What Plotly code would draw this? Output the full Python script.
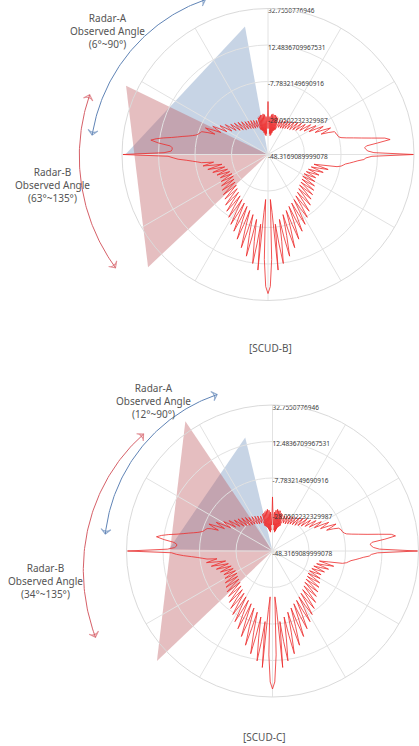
import numpy as np
import plotly.graph_objects as go

W, H = 419, 746

# ---------------- data ----------------
ANGLES = list(range(360))  # aspect angle, degrees

RCS_SCUD_B = [
    32.6, 10.5, 7.2, 6.1, 5.5, 6.6, 12.8, 20.0, 17.2, 10.0,
    4.4, 0.0, -3.9, -6.7, -7.8, -8.3, -8.3, -8.9, -8.9, -9.4,
    -12.8, -16.7, -13.3, -10.6, -15.0, -19.4, -16.7, -13.9, -17.8, -22.2,
    -19.4, -17.2, -20.6, -24.4, -21.7, -19.4, -22.8, -26.1, -23.9, -21.7,
    -24.4, -27.8, -25.6, -22.8, -26.1, -28.9, -26.7, -23.9, -27.2, -30.0,
    -27.8, -25.0, -27.8, -30.5, -28.9, -26.1, -28.9, -31.1, -29.4, -26.7,
    -29.4, -31.7, -30.0, -27.2, -30.0, -32.2, -30.0, -27.8, -30.5, -32.2,
    -30.5, -28.3, -31.1, -32.8, -33.9, -27.2, -34.4, -26.7, -35.0, -26.1,
    -36.1, -26.1, -37.2, -25.6, -37.8, -26.1, -36.7, -27.2, -33.9, -30.5,
    -18.9, -30.5, -33.9, -27.2, -36.7, -26.1, -37.8, -25.6, -37.2, -26.1,
    -36.1, -26.1, -35.0, -26.7, -34.4, -27.2, -33.9, -32.8, -31.1, -28.3,
    -30.5, -32.2, -30.5, -27.8, -30.0, -32.2, -30.0, -27.2, -30.0, -31.7,
    -29.4, -26.7, -29.4, -31.1, -28.9, -26.1, -28.9, -30.5, -27.8, -25.0,
    -27.8, -30.0, -27.2, -23.9, -26.7, -28.9, -26.1, -22.8, -25.6, -27.8,
    -24.4, -21.7, -23.9, -26.1, -22.8, -19.4, -21.7, -24.4, -20.6, -17.2,
    -19.4, -22.2, -17.8, -13.9, -16.7, -19.4, -15.0, -10.6, -13.3, -16.7,
    -12.8, -9.4, -8.9, -8.3, -7.8, -6.7, -5.0, -2.8, 0.0, 2.8,
    6.1, 10.5, 14.4, 17.2, 12.8, 6.1, 5.0, 5.0, 5.5, 9.4,
    32.2, 7.2, 4.4, 1.7, -2.8, -6.1, -8.9, -11.1, -17.8, -15.0,
    -11.7, -17.2, -22.2, -18.3, -13.9, -18.9, -23.3, -20.0, -16.1, -20.6,
    -24.4, -21.1, -17.8, -21.7, -25.0, -22.2, -18.9, -22.2, -25.6, -22.2,
    -18.3, -22.2, -25.6, -21.7, -17.2, -21.1, -25.0, -20.6, -16.1, -20.6,
    -24.4, -20.0, -15.0, -19.4, -23.9, -18.9, -13.9, -18.9, -22.8, -17.2,
    -11.7, -17.2, -21.7, -15.6, -9.4, -15.0, -20.6, -13.9, -7.2, -13.3,
    -19.4, -12.2, -4.4, -11.7, -18.3, -10.0, -1.7, -9.4, -17.2, -7.8,
    1.7, -7.2, -15.6, -5.0, 5.5, -4.4, -13.9, -2.2, 9.4, -1.1,
    -11.7, 0.5, 12.8, 1.7, -9.4, 16.1, -16.1, -23.3, 10.0, 25.0,
    28.9, 25.0, 10.0, -23.3, -16.1, 16.1, -9.4, 1.7, 12.8, 0.5,
    -11.7, -1.1, 9.4, -2.2, -13.9, -4.4, 5.5, -5.0, -15.6, -7.2,
    1.7, -7.8, -17.2, -9.4, -1.7, -10.0, -18.3, -11.7, -4.4, -12.2,
    -19.4, -13.3, -7.2, -13.9, -20.6, -15.0, -9.4, -15.6, -21.7, -17.2,
    -11.7, -17.2, -22.8, -18.9, -13.9, -18.9, -23.9, -19.4, -15.0, -20.0,
    -24.4, -20.6, -16.1, -20.6, -25.0, -21.1, -17.2, -21.7, -25.6, -22.2,
    -18.3, -22.2, -25.6, -22.2, -18.9, -22.2, -25.0, -21.7, -17.8, -21.1,
    -24.4, -20.6, -16.1, -20.0, -23.3, -18.9, -13.9, -18.3, -22.2, -17.2,
    -9.4, -7.2, -6.1, -5.0, -2.8, -0.6, 1.7, 5.0, 6.1, 9.4,
]

RCS_SCUD_C = [
    32.2, 11.1, 7.8, 6.6, 6.1, 7.2, 14.4, 20.5, 18.3, 11.1,
    5.0, 0.5, -3.3, -6.1, -7.2, -7.8, -8.3, -8.3, -8.9, -9.4,
    -12.2, -16.1, -12.8, -10.0, -14.4, -18.9, -16.1, -13.3, -17.2, -21.7,
    -18.9, -16.7, -20.0, -23.9, -21.1, -18.9, -22.2, -25.6, -23.3, -21.1,
    -23.9, -27.2, -25.0, -22.2, -25.6, -28.3, -26.1, -23.3, -26.7, -29.4,
    -27.2, -24.4, -27.2, -30.0, -28.3, -25.6, -28.3, -30.5, -28.9, -26.1,
    -28.9, -31.1, -29.4, -26.7, -29.4, -31.7, -29.4, -27.2, -30.0, -31.7,
    -30.0, -27.8, -30.5, -32.2, -33.9, -27.2, -34.4, -26.7, -35.0, -25.6,
    -36.1, -25.6, -37.2, -25.0, -37.8, -25.6, -36.7, -26.7, -33.9, -30.0,
    -18.3, -30.0, -33.9, -26.7, -36.7, -25.6, -37.8, -25.0, -37.2, -25.6,
    -36.1, -26.1, -35.0, -26.7, -34.4, -27.2, -33.9, -32.2, -30.5, -27.8,
    -30.0, -31.7, -30.0, -27.2, -29.4, -31.7, -29.4, -26.7, -29.4, -31.1,
    -28.9, -26.1, -28.9, -30.5, -28.3, -25.6, -28.3, -30.0, -27.2, -24.4,
    -27.2, -29.4, -26.7, -23.3, -26.1, -28.3, -25.6, -22.2, -25.0, -27.2,
    -23.9, -21.1, -23.3, -25.6, -22.2, -18.9, -21.1, -23.9, -20.0, -16.7,
    -18.9, -21.7, -17.2, -13.3, -16.1, -18.9, -14.4, -10.0, -12.8, -16.1,
    -12.2, -10.0, -9.4, -8.9, -8.3, -7.2, -5.6, -3.3, -0.6, 2.2,
    5.5, 10.0, 13.9, 16.6, 12.2, 6.6, 5.0, 5.0, 6.1, 10.0,
    32.2, 7.8, 5.0, 1.1, -3.3, -6.7, -9.4, -11.7, -17.2, -14.4,
    -11.1, -16.7, -21.7, -17.8, -13.3, -18.3, -22.8, -19.4, -15.6, -20.0,
    -23.9, -20.6, -17.2, -21.1, -24.4, -21.7, -18.3, -21.7, -25.0, -21.7,
    -17.8, -21.7, -25.0, -21.1, -16.7, -20.6, -24.4, -20.0, -15.6, -20.0,
    -23.9, -19.4, -14.4, -18.9, -23.3, -18.3, -13.3, -18.3, -22.2, -16.7,
    -11.1, -16.7, -21.1, -15.0, -8.9, -14.4, -20.0, -13.3, -6.7, -12.8,
    -18.9, -11.7, -3.9, -11.1, -17.8, -9.4, -1.1, -8.9, -16.7, -7.2,
    2.2, -6.7, -15.0, -4.4, 6.1, -3.9, -13.3, -1.7, 10.0, -0.6,
    -11.1, 1.1, 13.3, 2.2, -8.9, 16.6, -15.6, -22.8, 9.4, 24.4,
    28.3, 24.4, 9.4, -22.8, -15.6, 16.6, -8.9, 2.2, 13.3, 1.1,
    -11.1, -0.6, 10.0, -1.7, -13.3, -3.9, 6.1, -4.4, -15.0, -6.7,
    2.2, -7.2, -16.7, -8.9, -1.1, -9.4, -17.8, -11.1, -3.9, -11.7,
    -18.9, -12.8, -6.7, -13.3, -20.0, -14.4, -8.9, -15.0, -21.1, -16.7,
    -11.1, -16.7, -22.2, -18.3, -13.3, -18.3, -23.3, -18.9, -14.4, -19.4,
    -23.9, -20.0, -15.6, -20.0, -24.4, -20.6, -16.7, -21.1, -25.0, -21.7,
    -17.8, -21.7, -25.0, -21.7, -18.3, -21.7, -24.4, -21.1, -17.2, -20.6,
    -23.9, -20.0, -15.6, -19.4, -22.8, -18.3, -13.3, -17.8, -21.7, -16.7,
    -8.9, -6.7, -5.6, -4.4, -2.2, 0.0, 2.2, 5.5, 6.6, 10.0,
]
assert len(RCS_SCUD_B) == 360 and len(RCS_SCUD_C) == 360

R_TICKS = [-48.3169089999078, -28.0502232329987, -7.7832149690916,
           12.4836709967531, 32.7550776946]
R_TICK_TEXT = ["-48.3169089999078", "-28.0502232329987", "-7.7832149690916",
               "12.4836709967531", "32.7550776946"]

TITLES = ["[SCUD-B]", "[SCUD-C]"]
RADAR_A_LABELS = ["Radar-A<br>Observed Angle<br>(6°~90°)",
                  "Radar-A<br>Observed Angle<br>(12°~90°)"]
RADAR_B_LABELS = ["Radar-B<br>Observed Angle<br>(63°~135°)",
                  "Radar-B<br>Observed Angle<br>(34°~135°)"]

# observed-angle wedges as drawn: (angle1, angle2, reach1, reach2) reach = fraction of outer ring
WEDGE_A = [(100.2, 180.2, 0.89, 0.98), (103.5, 179.0, 0.80, 0.71)]
WEDGE_B = [(154.2, 223.2, 1.08, 1.127), (123.9, 223.6, 1.07, 1.093)]
# guide arcs: (angle1, angle2, reach1, reach2)
ARC_A = [(112.0, 173.7, 1.144, 1.212), (109.5, 174.2, 1.137, 1.151)]
ARC_B = [(161.5, 216.6, 1.288, 1.301), (137.8, 206.0, 1.192, 1.349)]

# ---------------- layout constants ----------------
R_PX = 146.0
CENTERS = [(268.0, 154.5), (272.5, 551.0)]
TITLE_POS = [(270, 348), (264, 737)]
RA_POS = [(107, 31), (153, 401)]
RB_POS = [(52, 185), (45, 581)]

BLUE = "rgb(96,132,182)"
RED = "rgb(214,96,104)"
GRID = "#e2e2e2"
TXT = "#555555"
FONT = "Noto Sans"


def to_px(center, theta_deg, frac):
    cx, cy = center
    t = np.radians(theta_deg)
    return cx + frac * R_PX * np.cos(t), cy - frac * R_PX * np.sin(t)


def polar_domain(center):
    cx, cy = center
    return dict(x=[(cx - R_PX) / W, (cx + R_PX) / W],
                y=[1 - (cy + R_PX) / H, 1 - (cy - R_PX) / H])


fig = go.Figure()

# wedges and arcs on an invisible pixel-scaled cartesian overlay
for i, c in enumerate(CENTERS):
    for (a1, a2, f1, f2), col in ((WEDGE_A[i], "rgba(100,135,182,0.36)"),
                                   (WEDGE_B[i], "rgba(190,92,98,0.40)")):
        x1, y1 = to_px(c, a1, f1)
        x2, y2 = to_px(c, a2, f2)
        fig.add_trace(go.Scatter(x=[c[0], x1, x2, c[0]], y=[c[1], y1, y2, c[1]],
                                 mode="lines", fill="toself", fillcolor=col,
                                 line=dict(width=0), hoverinfo="skip",
                                 showlegend=False))
    for (a1, a2, f1, f2), col in ((ARC_A[i], BLUE), (ARC_B[i], RED)):
        th = np.linspace(a1, a2, 80)
        fr = np.linspace(f1, f2, 80)
        xs, ys = to_px(c, th, fr)
        fig.add_trace(go.Scatter(x=xs, y=ys, mode="lines",
                                 line=dict(color=col, width=1),
                                 hoverinfo="skip", showlegend=False))
        for xa, ya in (([xs[-3], xs[-1]], [ys[-3], ys[-1]]),
                       ([xs[2], xs[0]], [ys[2], ys[0]])):
            fig.add_trace(go.Scatter(
                x=xa, y=ya, mode="markers", hoverinfo="skip", showlegend=False,
                marker=dict(symbol="arrow-wide-open", size=[0, 7], angleref="previous",
                            color=col, line=dict(color=col, width=1.1))))

# RCS patterns
for i, (rcs, c) in enumerate(zip([RCS_SCUD_B, RCS_SCUD_C], CENTERS)):
    sub = "polar" if i == 0 else "polar2"
    fig.add_trace(go.Scatterpolar(
        r=rcs + [rcs[0]], theta=ANGLES + [360], mode="lines",
        line=dict(color="rgba(236,44,44,0.9)", width=0.9),
        subplot=sub, showlegend=False, hoverinfo="skip"))
    fig.add_trace(go.Scatterpolar(
        r=R_TICKS, theta=[90] * len(R_TICKS), mode="text", text=R_TICK_TEXT,
        textposition="bottom right", cliponaxis=False,
        textfont=dict(size=6.5, color="#3a3a3a", family=FONT),
        subplot=sub, showlegend=False, hoverinfo="skip"))

polar_common = dict(
    bgcolor="rgba(0,0,0,0)",
    radialaxis=dict(range=[R_TICKS[0], R_TICKS[-1]], tickvals=R_TICKS,
                    showticklabels=False, ticks="", showline=False,
                    gridcolor=GRID, gridwidth=1, angle=90),
    angularaxis=dict(dtick=30, showticklabels=False, ticks="", gridcolor=GRID,
                     gridwidth=1, linecolor="#dadada", linewidth=1, showline=True,
                     rotation=0, direction="counterclockwise"),
)

annotations = []
for i in range(2):
    for txt, (px, py), size in ((TITLES[i], TITLE_POS[i], 10),
                                (RADAR_A_LABELS[i], RA_POS[i], 10),
                                (RADAR_B_LABELS[i], RB_POS[i], 10)):
        annotations.append(dict(x=px, y=py, xref="x", yref="y", text=txt,
                                showarrow=False, align="center",
                                font=dict(size=size, color=TXT, family=FONT)))

fig.update_layout(
    width=W, height=H, autosize=False,
    margin=dict(l=0, r=0, t=0, b=0),
    paper_bgcolor="white", plot_bgcolor="rgba(0,0,0,0)",
    xaxis=dict(range=[0, W], visible=False, fixedrange=True, domain=[0, 1]),
    yaxis=dict(range=[H, 0], visible=False, fixedrange=True, domain=[0, 1]),
    polar=dict(domain=polar_domain(CENTERS[0]), **polar_common),
    polar2=dict(domain=polar_domain(CENTERS[1]), **polar_common),
    annotations=annotations,
    showlegend=False,
)

fig.write_html("out.html")
